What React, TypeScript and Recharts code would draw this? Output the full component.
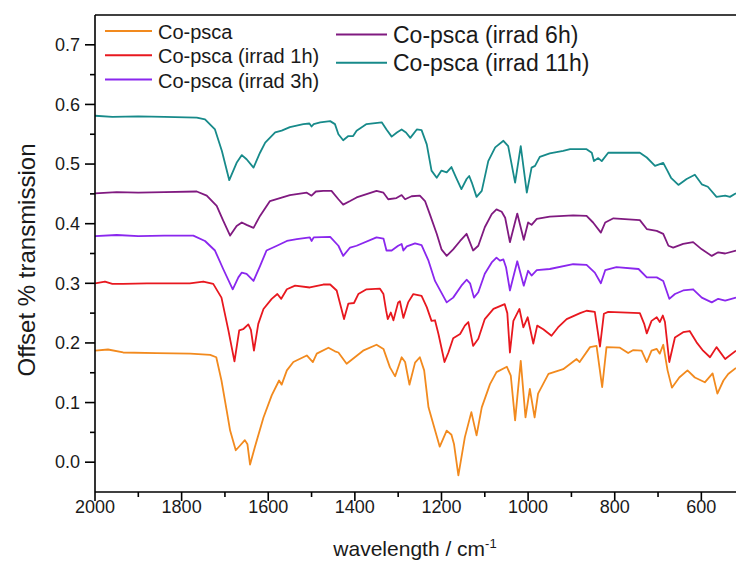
import React from 'react';
import { LineChart, Line, XAxis, YAxis, ReferenceLine } from 'recharts';

const FONT = '"Liberation Sans", Arial, Helvetica, sans-serif';

// x ticks every 100 cm-1, labels on the 200s
const wnTicks = [2000, 1900, 1800, 1700, 1600, 1500, 1400, 1300, 1200, 1100, 1000, 900, 800, 700, 600];
const tTicks = [0, 0.05, 0.1, 0.15, 0.2, 0.25, 0.3, 0.35, 0.4, 0.45, 0.5, 0.55, 0.6, 0.65, 0.7];

const seriesNames = [
  'Co-psca',
  'Co-psca (irrad 1h)',
  'Co-psca (irrad 3h)',
  'Co-psca (irrad 6h)',
  'Co-psca (irrad 11h)',
];
const seriesColors = ['#F28A1E', '#E8181F', '#8A27EE', '#801A80', '#178A8A'];

// [wavenumber, offset transmission]
const coPsca = [
  [2000, 0.187], [1970, 0.189], [1935, 0.184], [1858, 0.183], [1780, 0.182], [1734, 0.18], [1720, 0.176],
  [1708, 0.137], [1696, 0.087], [1688, 0.053], [1675, 0.02], [1665, 0.028], [1654, 0.037], [1648, 0.03],
  [1642, -0.004], [1631, 0.025], [1611, 0.075], [1592, 0.112], [1575, 0.137], [1569, 0.13], [1557, 0.154],
  [1542, 0.168], [1511, 0.179], [1497, 0.168], [1488, 0.182], [1461, 0.192], [1446, 0.186], [1438, 0.184],
  [1419, 0.165], [1400, 0.176], [1381, 0.187], [1350, 0.197], [1334, 0.19], [1319, 0.159], [1307, 0.144],
  [1292, 0.176], [1284, 0.168], [1274, 0.13], [1261, 0.167], [1250, 0.176], [1240, 0.154], [1230, 0.092],
  [1219, 0.064], [1204, 0.026], [1188, 0.053], [1177, 0.046], [1171, 0.03], [1161, -0.022], [1146, 0.042],
  [1131, 0.084], [1119, 0.045], [1107, 0.092], [1088, 0.131], [1073, 0.151], [1049, 0.16], [1040, 0.145],
  [1030, 0.07], [1017, 0.17], [1006, 0.075], [996, 0.123], [985, 0.075], [977, 0.115], [953, 0.148],
  [919, 0.156], [888, 0.173], [881, 0.168], [857, 0.193], [842, 0.195], [829, 0.126], [819, 0.193],
  [788, 0.192], [769, 0.183], [757, 0.188], [738, 0.187], [726, 0.168], [715, 0.187], [703, 0.19],
  [696, 0.182], [688, 0.197], [678, 0.154], [668, 0.125], [651, 0.142], [632, 0.154], [615, 0.142],
  [592, 0.134], [574, 0.149], [563, 0.115], [549, 0.137], [538, 0.148], [520, 0.158],
];

const irrad1h = [
  [2000, 0.3], [1977, 0.303], [1960, 0.299], [1935, 0.299], [1880, 0.3], [1781, 0.3], [1750, 0.303],
  [1727, 0.299], [1708, 0.276], [1692, 0.221], [1678, 0.169], [1667, 0.221], [1658, 0.223], [1646, 0.231],
  [1640, 0.222], [1633, 0.187], [1623, 0.232], [1611, 0.257], [1592, 0.274], [1579, 0.282], [1570, 0.274],
  [1557, 0.29], [1538, 0.296], [1504, 0.293], [1473, 0.298], [1457, 0.298], [1442, 0.288], [1432, 0.26],
  [1425, 0.24], [1415, 0.266], [1402, 0.267], [1392, 0.282], [1373, 0.29], [1342, 0.291], [1334, 0.282],
  [1328, 0.255], [1324, 0.24], [1317, 0.251], [1311, 0.238], [1300, 0.268], [1296, 0.27], [1288, 0.242],
  [1277, 0.268], [1265, 0.282], [1246, 0.279], [1234, 0.26], [1223, 0.237], [1215, 0.238], [1207, 0.215],
  [1193, 0.168], [1184, 0.184], [1173, 0.208], [1157, 0.215], [1146, 0.229], [1138, 0.235], [1127, 0.195],
  [1115, 0.207], [1100, 0.24], [1080, 0.257], [1054, 0.265], [1048, 0.25], [1042, 0.184], [1034, 0.237],
  [1020, 0.257], [1011, 0.226], [1001, 0.243], [988, 0.199], [979, 0.229], [965, 0.223], [946, 0.212],
  [931, 0.226], [911, 0.24], [880, 0.25], [865, 0.254], [846, 0.252], [834, 0.194], [825, 0.249],
  [815, 0.252], [742, 0.25], [732, 0.232], [726, 0.216], [715, 0.237], [703, 0.243], [696, 0.235],
  [689, 0.246], [684, 0.235], [674, 0.168], [661, 0.209], [642, 0.218], [627, 0.22], [611, 0.201],
  [596, 0.187], [580, 0.176], [565, 0.193], [545, 0.173], [520, 0.187],
];

const irrad3h = [
  [2000, 0.379], [1950, 0.381], [1900, 0.379], [1840, 0.38], [1773, 0.38], [1746, 0.371], [1723, 0.355],
  [1704, 0.324], [1682, 0.29], [1669, 0.31], [1661, 0.318], [1650, 0.316], [1634, 0.304], [1619, 0.329],
  [1604, 0.355], [1580, 0.363], [1557, 0.371], [1534, 0.374], [1504, 0.377], [1500, 0.371], [1495, 0.377],
  [1457, 0.378], [1438, 0.363], [1427, 0.346], [1411, 0.36], [1396, 0.363], [1350, 0.377], [1334, 0.375],
  [1327, 0.355], [1315, 0.355], [1300, 0.363], [1292, 0.366], [1288, 0.355], [1280, 0.362], [1261, 0.367],
  [1246, 0.364], [1230, 0.338], [1215, 0.304], [1188, 0.268], [1173, 0.276], [1154, 0.296], [1142, 0.306],
  [1134, 0.3], [1125, 0.276], [1115, 0.285], [1100, 0.316], [1084, 0.335], [1073, 0.343], [1065, 0.338],
  [1057, 0.34], [1051, 0.327], [1042, 0.288], [1025, 0.337], [1010, 0.296], [1000, 0.321], [992, 0.313],
  [980, 0.322], [950, 0.324], [896, 0.332], [865, 0.331], [846, 0.318], [832, 0.3], [822, 0.322],
  [796, 0.327], [745, 0.324], [726, 0.31], [703, 0.31], [688, 0.304], [674, 0.274], [661, 0.282],
  [642, 0.288], [619, 0.29], [599, 0.276], [576, 0.268], [561, 0.274], [545, 0.271], [520, 0.276],
];

const irrad6h = [
  [2000, 0.451], [1950, 0.453], [1900, 0.452], [1840, 0.453], [1765, 0.454], [1742, 0.447], [1719, 0.43],
  [1704, 0.405], [1688, 0.38], [1673, 0.396], [1661, 0.402], [1650, 0.398], [1634, 0.393], [1619, 0.413],
  [1596, 0.438], [1573, 0.443], [1550, 0.448], [1511, 0.452], [1500, 0.447], [1490, 0.454], [1473, 0.455],
  [1454, 0.455], [1438, 0.441], [1427, 0.432], [1411, 0.438], [1396, 0.444], [1350, 0.455], [1334, 0.452],
  [1323, 0.441], [1304, 0.443], [1292, 0.448], [1284, 0.441], [1269, 0.446], [1250, 0.447], [1238, 0.438],
  [1227, 0.416], [1211, 0.383], [1200, 0.357], [1188, 0.346], [1173, 0.357], [1157, 0.371], [1142, 0.383],
  [1127, 0.355], [1115, 0.363], [1100, 0.394], [1084, 0.416], [1073, 0.424], [1061, 0.42], [1053, 0.41],
  [1042, 0.369], [1025, 0.417], [1010, 0.373], [1000, 0.402], [992, 0.398], [980, 0.408], [950, 0.412],
  [896, 0.414], [865, 0.413], [850, 0.402], [832, 0.385], [822, 0.402], [803, 0.409], [742, 0.406],
  [726, 0.391], [703, 0.388], [688, 0.383], [676, 0.363], [665, 0.36], [642, 0.366], [619, 0.369],
  [599, 0.357], [576, 0.346], [561, 0.352], [545, 0.35], [520, 0.355],
];

const irrad11h = [
  [2000, 0.581], [1960, 0.579], [1900, 0.58], [1840, 0.579], [1765, 0.578], [1746, 0.575], [1723, 0.558],
  [1707, 0.522], [1690, 0.473], [1673, 0.502], [1661, 0.515], [1650, 0.508], [1634, 0.494], [1619, 0.519],
  [1607, 0.536], [1584, 0.553], [1569, 0.556], [1550, 0.562], [1519, 0.567], [1505, 0.568], [1500, 0.563],
  [1495, 0.567], [1480, 0.57], [1457, 0.572], [1446, 0.567], [1438, 0.55], [1427, 0.54], [1415, 0.547],
  [1404, 0.547], [1396, 0.556], [1373, 0.567], [1338, 0.57], [1327, 0.558], [1315, 0.546], [1303, 0.553],
  [1292, 0.558], [1282, 0.553], [1272, 0.544], [1257, 0.558], [1246, 0.557], [1234, 0.533], [1223, 0.489],
  [1211, 0.477], [1200, 0.489], [1188, 0.486], [1177, 0.495], [1166, 0.477], [1154, 0.458], [1142, 0.475],
  [1136, 0.48], [1130, 0.469], [1119, 0.445], [1107, 0.455], [1092, 0.505], [1076, 0.528], [1057, 0.539],
  [1046, 0.53], [1030, 0.469], [1017, 0.53], [1003, 0.452], [992, 0.494], [984, 0.497], [973, 0.512],
  [950, 0.518], [919, 0.522], [903, 0.525], [865, 0.525], [853, 0.519], [848, 0.505], [838, 0.51],
  [830, 0.505], [815, 0.519], [796, 0.519], [742, 0.519], [726, 0.511], [707, 0.497], [688, 0.502],
  [680, 0.491], [670, 0.477], [653, 0.465], [634, 0.475], [615, 0.482], [599, 0.466], [585, 0.462],
  [565, 0.445], [545, 0.447], [534, 0.445], [520, 0.451],
];

const spectra = [coPsca, irrad1h, irrad3h, irrad6h, irrad11h];

const toRows = (pts: number[][]) => pts.map(([wn, t]) => ({ wn, t }));

function YTick(props: any) {
  const { x, y, payload } = props;
  const v = payload.value;
  const major = Math.round(v * 100) % 10 === 0;
  return (
    <g>
      <line x1={x + (major ? 5 : 10)} x2={x + 15} y1={y} y2={y} stroke="#000" strokeWidth={1.6} />
      {major && (
        <text x={x} y={y} dy="0.35em" textAnchor="end" fontSize={18} fontFamily={FONT} fill="#1a1a1a">
          {v.toFixed(1)}
        </text>
      )}
    </g>
  );
}

function XTick(props: any) {
  const { x, y, payload } = props;
  const v = payload.value;
  const major = v % 200 === 0;
  const axisY = y - 12;
  return (
    <g>
      <line x1={x} x2={x} y1={axisY} y2={axisY + (major ? 9 : 5)} stroke="#000" strokeWidth={1.6} />
      {major && (
        <text x={x} y={axisY + 21} textAnchor="middle" fontSize={18} fontFamily={FONT} fill="#1a1a1a">
          {v}
        </text>
      )}
    </g>
  );
}

export default function App() {
  const legendCol1 = [0, 1, 2];
  const legendCol2 = [3, 4];
  return (
    <div style={{ position: 'absolute', left: 0, top: 0, width: 737, height: 570, background: '#fff' }}>
      <LineChart width={737} height={570} margin={{ top: 15, right: 1, bottom: 0, left: 0 }}>
        <XAxis
          type="number"
          dataKey="wn"
          domain={[520, 2000]}
          reversed
          allowDataOverflow
          ticks={wnTicks}
          interval={0}
          tick={<XTick />}
          tickLine={false}
          tickSize={9}
          tickMargin={3}
          height={78}
          axisLine={{ stroke: '#000', strokeWidth: 1.6 }}
        />
        <YAxis
          type="number"
          domain={[-0.05, 0.75]}
          allowDataOverflow
          ticks={tTicks}
          interval={0}
          tick={<YTick />}
          tickLine={false}
          tickSize={10}
          tickMargin={5}
          width={95}
          axisLine={{ stroke: '#000', strokeWidth: 1.6 }}
        />
        <ReferenceLine y={0.75} stroke="#000" strokeWidth={1.6} />
        {spectra.map((pts, i) => (
          <Line
            key={seriesNames[i]}
            data={toRows(pts)}
            dataKey="t"
            name={seriesNames[i]}
            type="linear"
            stroke={seriesColors[i]}
            strokeWidth={1.8}
            strokeLinejoin="round"
            dot={false}
            activeDot={false}
            isAnimationActive={false}
          />
        ))}
      </LineChart>
      <svg
        width={737}
        height={570}
        style={{ position: 'absolute', left: 0, top: 0, pointerEvents: 'none' }}
        fontFamily={FONT}
      >
        {legendCol1.map((i, r) => (
          <g key={i}>
            <line x1={105} x2={152} y1={31 + r * 24.3} y2={31 + r * 24.3} stroke={seriesColors[i]} strokeWidth={2} />
            <text x={158} y={32 + r * 24.3} dy="0.35em" fontSize={20} fill="#1a1a1a">
              {seriesNames[i]}
            </text>
          </g>
        ))}
        {legendCol2.map((i, r) => (
          <g key={i}>
            <line x1={336} x2={387} y1={34.5 + r * 28.3} y2={34.5 + r * 28.3} stroke={seriesColors[i]} strokeWidth={2} />
            <text x={393} y={35 + r * 28.3} dy="0.35em" fontSize={23} fill="#1a1a1a">
              {seriesNames[i]}
            </text>
          </g>
        ))}
        <text x={27} y={260} transform="rotate(-90 27 260)" textAnchor="middle" dy="0.35em" fontSize={24} fill="#1a1a1a">
          Offset % transmission
        </text>
        <text x={415} y={556} textAnchor="middle" fontSize={21} fill="#1a1a1a">
          wavelength / cm<tspan dy={-8} fontSize={13}>-1</tspan>
        </text>
      </svg>
    </div>
  );
}
